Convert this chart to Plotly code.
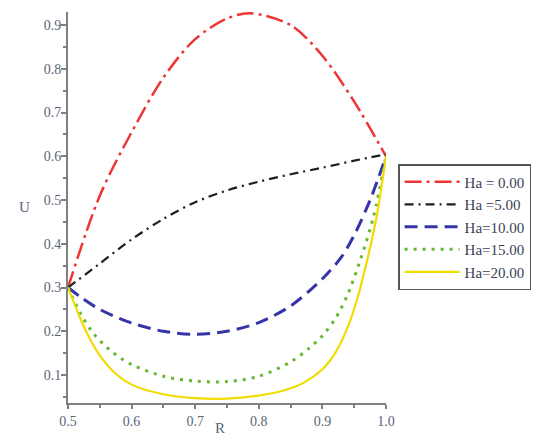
import plotly.graph_objects as go

# Ha = 0.00
r_ha0 = [0.5, 0.55, 0.6, 0.65, 0.7, 0.75, 0.786, 0.85, 0.9, 0.95, 1.0]
u_ha0 = [0.3, 0.51, 0.655, 0.78, 0.868, 0.915, 0.927, 0.9, 0.83, 0.725, 0.6]
# Ha = 5.00
r_ha5 = [0.5, 0.55, 0.6, 0.65, 0.7, 0.75, 0.8, 0.85, 0.9, 0.95, 1.0]
u_ha5 = [0.3, 0.355, 0.41, 0.457, 0.495, 0.522, 0.542, 0.559, 0.574, 0.59, 0.605]
# Ha = 10.00
r_ha10 = [0.5, 0.52, 0.55, 0.6, 0.65, 0.7, 0.75, 0.8, 0.85, 0.9, 0.93, 0.95, 0.975, 1.0]
u_ha10 = [0.3, 0.278, 0.25, 0.219, 0.2, 0.193, 0.2, 0.22, 0.258, 0.32, 0.37, 0.42, 0.5, 0.6]
# Ha = 15.00
r_ha15 = [0.5, 0.52, 0.54, 0.57, 0.6, 0.65, 0.7, 0.75, 0.8, 0.85, 0.88, 0.9, 0.92, 0.94, 0.96, 0.98, 1.0]
u_ha15 = [0.3, 0.24, 0.195, 0.152, 0.124, 0.097, 0.086, 0.085, 0.097, 0.13, 0.162, 0.19, 0.228, 0.285, 0.365, 0.46, 0.6]
# Ha = 20.00
r_ha20 = [0.5, 0.515, 0.53, 0.55, 0.575, 0.6, 0.65, 0.7, 0.75, 0.8, 0.84, 0.87, 0.9, 0.92, 0.94, 0.955, 0.97, 0.985, 1.0]
u_ha20 = [0.3, 0.245, 0.195, 0.145, 0.103, 0.078, 0.056, 0.047, 0.046, 0.053, 0.065, 0.082, 0.113, 0.15, 0.21, 0.275, 0.36, 0.46, 0.6]

names = ["Ha = 0.00", "Ha =5.00", "Ha=10.00", "Ha=15.00", "Ha=20.00"]
x_ticks = [0.5, 0.6, 0.7, 0.8, 0.9, 1.0]
y_ticks = [0.1, 0.2, 0.3, 0.4, 0.5, 0.6, 0.7, 0.8, 0.9]

series = [
    (r_ha0, u_ha0, "#ee3535", "17px,5px,3px,5px", 2.5),
    (r_ha5, u_ha5, "#1e1e1e", "9px,5px,2px,5px", 2.2),
    (r_ha10, u_ha10, "#3535a8", "13px,7px", 3),
    (r_ha15, u_ha15, "#66b832", "3px,6px", 3),
    (r_ha20, u_ha20, "#f0dc00", "solid", 2.2),
]

fig = go.Figure()
for (r, u, c, d, w), n in zip(series, names):
    fig.add_trace(go.Scatter(x=r, y=u, mode="lines", name=n,
                             line=dict(color=c, dash=d, width=w, shape="spline", smoothing=0.9)))

tick_font = dict(family="Liberation Serif", size=14, color="#5a6478")
axis_common = dict(showline=True, linecolor="#808080", linewidth=2, ticks="outside",
                   tickcolor="#808080", tickwidth=1.5, showgrid=False, zeroline=False,
                   tickfont=tick_font, mirror=False)

fig.update_layout(
    width=538, height=447,
    margin=dict(l=68, r=152, t=12, b=44, autoexpand=False),
    paper_bgcolor="white", plot_bgcolor="white",
    xaxis=dict(range=[0.5, 1.0], tickvals=x_ticks, ticktext=[f"{v:.1f}" for v in x_ticks],
               ticklen=4, minor=dict(dtick=0.05, tick0=0.5, ticklen=3, ticks="outside", tickcolor="#808080"),
               **axis_common),
    yaxis=dict(range=[0.036, 0.93], tickvals=y_ticks, ticktext=[f"{v:.1f}" for v in y_ticks],
               ticklen=5, ticklabelstandoff=-3,
               minor=dict(dtick=0.05, tick0=0.0, ticklen=3, ticks="outside", tickcolor="#808080"),
               **axis_common),
    legend=dict(x=1.038, y=0.611, xanchor="left", yanchor="top",
                bordercolor="#555555", borderwidth=1.5, bgcolor="white",
                font=dict(family="Liberation Serif", size=15, color="#3a3f55"),
                itemwidth=55, tracegroupgap=0),
    showlegend=True,
    annotations=[
        dict(text="U", x=-0.16, y=0.501, xref="paper", yref="paper", showarrow=False,
             font=dict(family="Liberation Serif", size=15, color="#5a6478")),
        dict(text="R", x=0.478, y=-0.0895, xref="paper", yref="paper", showarrow=False,
             font=dict(family="Liberation Serif", size=15, color="#5a6478")),
    ],
)

fig.write_html("out.html")
